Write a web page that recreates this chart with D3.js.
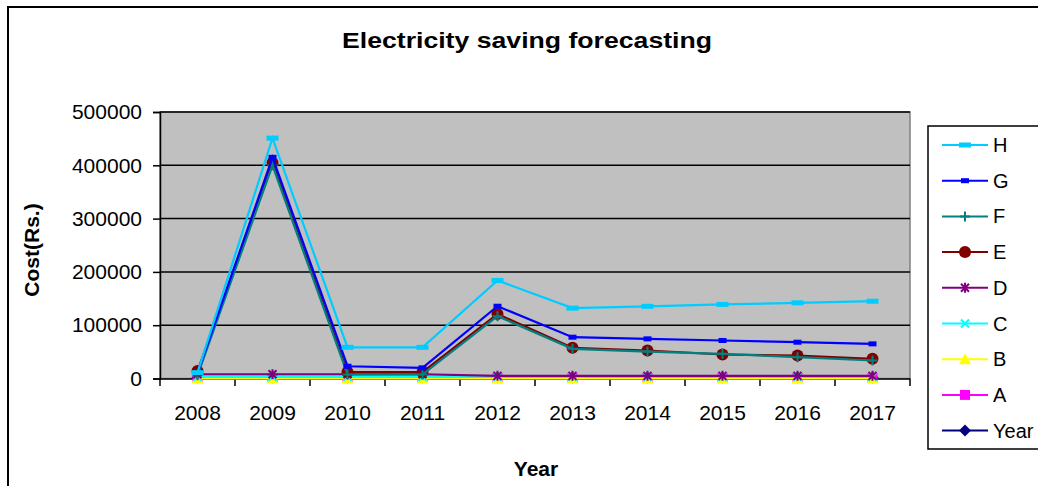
<!DOCTYPE html>
<html>
<head>
<meta charset="utf-8">
<script src="https://cdn.jsdelivr.net/npm/d3@7"></script>
<style>
  html, body { margin: 0; padding: 0; background: #fff; }
  svg { display: block; font-family: "Liberation Sans", Arial, sans-serif; }
</style>
</head>
<body>
<svg id="chart" width="1038" height="486"></svg>
<script>
// ---- data ----
const years = ["2008","2009","2010","2011","2012","2013","2014","2015","2016","2017"];
const yTicks = [0, 100000, 200000, 300000, 400000, 500000];
const seriesNames = ["Year","A","B","C","D","E","F","G","H"];
const Year = [2008,2009,2010,2011,2012,2013,2014,2015,2016,2017];
const A = [1000,1000,1000,1000,1000,1000,1000,1000,1000,1000];
const B = [0,0,0,0,0,0,0,0,0,0];
const C = [3000,3000,3000,3000,3000,3000,3000,3000,3000,3000];
const D = [8000,8000,8000,8000,5000,5000,5000,5000,5000,5000];
const E = [14000,405000,12000,12000,121000,57500,52500,45000,43000,37000];
const F = [6000,400000,7500,7500,117000,55700,50600,46300,40000,33800];
const G = [10000,415000,23000,20000,135600,77500,74400,71300,68100,65000];
const H = [11000,451000,58500,58500,184000,132000,135500,139000,142000,145000];
const seriesValues = {Year, A, B, C, D, E, F, G, H};

// ---- styles ----
const colors = {Year:"#000080", A:"#FF00FF", B:"#FFFF00", C:"#00FFFF", D:"#800080",
                E:"#800000", F:"#008080", G:"#0000FF", H:"#00CCFF"};

const svg = d3.select("#chart");
const plot = {l:160, r:910, t:112, b:378.5};

const x = d3.scaleBand().domain(years).range([plot.l, plot.r]).padding(0);
const y = d3.scaleLinear().domain([0, 500000]).range([plot.b, plot.t]);

// outer chart border
svg.append("rect").attr("x",8).attr("y",7).attr("width",1040).attr("height",500)
  .attr("fill","#fff").attr("stroke","#000").attr("stroke-width",2);

// title
svg.append("text").attr("x",527).attr("y",48).attr("text-anchor","middle")
  .attr("font-size",22).attr("font-weight","bold")
  .attr("textLength",370).attr("lengthAdjust","spacingAndGlyphs")
  .text("Electricity saving forecasting");

// plot area
svg.append("rect").attr("x",plot.l).attr("y",plot.t)
  .attr("width",plot.r-plot.l).attr("height",plot.b-plot.t)
  .attr("fill","#C0C0C0").attr("stroke","#808080").attr("stroke-width",1.5);

// gridlines
svg.append("g").selectAll("line").data(yTicks.filter(d=>d>0)).join("line")
  .attr("x1",plot.l).attr("x2",plot.r)
  .attr("y1",d=>y(d)).attr("y2",d=>y(d))
  .attr("stroke","#000").attr("stroke-width",1.5);

// y axis
const yAxis = svg.append("g").attr("transform",`translate(${plot.l},0)`)
  .call(d3.axisLeft(y).tickValues(yTicks).tickSize(7).tickPadding(11).tickFormat(d3.format("d")));
yAxis.select(".domain").attr("stroke","#000").attr("stroke-width",1.5);
yAxis.selectAll(".tick line").attr("stroke","#000").attr("stroke-width",1.5);
yAxis.selectAll("text").attr("font-size",21).attr("fill","#000")
  .attr("font-family","'Liberation Sans', Arial, sans-serif");

// x axis line
svg.append("line").attr("x1",plot.l).attr("x2",plot.r).attr("y1",plot.b+0.5).attr("y2",plot.b+0.5)
  .attr("stroke","#000").attr("stroke-width",1.5);
// x ticks at band boundaries
const bounds = years.map(d=>x(d)).concat([x(years[years.length-1]) + x.bandwidth()]);
svg.append("g").selectAll("line").data(bounds).join("line")
  .attr("x1",d=>d).attr("x2",d=>d).attr("y1",plot.b).attr("y2",plot.b+7.5)
  .attr("stroke","#000").attr("stroke-width",1.5);
// x labels
svg.append("g").selectAll("text").data(years).join("text")
  .attr("x",d=>x(d)+x.bandwidth()/2).attr("y",420).attr("text-anchor","middle")
  .attr("font-size",21).text(d=>d);

// axis titles
svg.append("text").attr("x",536).attr("y",476).attr("text-anchor","middle")
  .attr("font-size",21).attr("font-weight","bold").text("Year");
svg.append("text").attr("transform","translate(39,250) rotate(-90)").attr("text-anchor","middle")
  .attr("font-size",21).attr("font-weight","bold").text("Cost(Rs.)");

// markers
function drawMarker(g, name, cx, cy, legend) {
  const c = colors[name];
  switch(name) {
    case "H": g.append("rect").attr("x",cx-6).attr("y",cy-2.5).attr("width",12).attr("height",5).attr("fill",c); break;
    case "G": g.append("rect").attr("x",cx-4).attr("y",cy-2.5).attr("width",8).attr("height",5).attr("fill",c); break;
    case "F": g.append("path").attr("d",`M${cx-5},${cy}H${cx+5}M${cx},${cy-5}V${cy+5}`).attr("stroke",c).attr("stroke-width",2); break;
    case "E": g.append("circle").attr("cx",cx).attr("cy",cy).attr("r",6).attr("fill",c); break;
    case "D": g.append("path").attr("d",`M${cx-4},${cy-4}L${cx+4},${cy+4}M${cx-4},${cy+4}L${cx+4},${cy-4}M${cx},${cy-5}V${cy+5}`).attr("stroke",c).attr("stroke-width",2); break;
    case "C": g.append("path").attr("d",`M${cx-4},${cy-4}L${cx+4},${cy+4}M${cx-4},${cy+4}L${cx+4},${cy-4}`).attr("stroke",c).attr("stroke-width",2); break;
    case "B": g.append("path").attr("d",`M${cx},${cy-6}L${cx+6},${cy+5}L${cx-6},${cy+5}Z`).attr("fill",c); break;
    case "A": g.append("rect").attr("x",cx-5).attr("y",cy-5).attr("width",10).attr("height",10).attr("fill",c); break;
    case "Year": g.append("path").attr("d",`M${cx},${cy-6}L${cx+6},${cy}L${cx},${cy+6}L${cx-6},${cy}Z`).attr("fill",c); break;
  }
}

const line = d3.line().x((d,i)=>x(years[i])+x.bandwidth()/2).y(d=>y(d));
seriesNames.forEach(name => {
  const g = svg.append("g");
  const vals = seriesValues[name];
  g.append("path").datum(vals).attr("d",line).attr("fill","none")
    .attr("stroke",colors[name]).attr("stroke-width",2.2);
  vals.forEach((v,i)=>drawMarker(g, name, x(years[i])+x.bandwidth()/2, y(v)));
});

// legend
const lg = svg.append("g");
lg.append("rect").attr("x",928).attr("y",126).attr("width",140).attr("height",323)
  .attr("fill","#fff").attr("stroke","#000").attr("stroke-width",1.5);
const legendOrder = seriesNames.slice().reverse();
legendOrder.forEach((name,i)=>{
  const ly = 145 + i*35.7;
  lg.append("line").attr("x1",942).attr("x2",988).attr("y1",ly).attr("y2",ly)
    .attr("stroke",colors[name]).attr("stroke-width",2);
  drawMarker(lg, name, 965, ly, true);
  lg.append("text").attr("x",993).attr("y",ly+7).attr("font-size",20).text(name);
});
</script>
</body>
</html>
